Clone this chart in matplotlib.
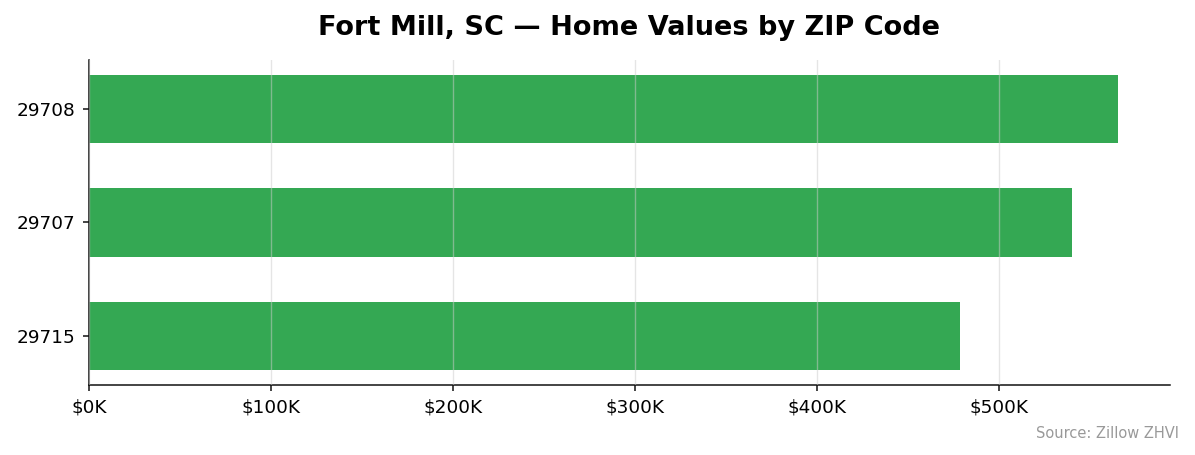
import matplotlib.pyplot as plt
from matplotlib.ticker import FuncFormatter

# ZIP codes and home values (ZHVI, dollars)
zips = ["29715", "29707", "29708"]
values = [478600, 540100, 565400]

fig, ax = plt.subplots(figsize=(11.95, 4.55), dpi=100)
fig.subplots_adjust(left=0.0745, right=0.979, top=0.868, bottom=0.154)

ax.barh(zips, values, height=0.6, color="#34a853")
ax.set_xlim(0, max(values) * 1.05)
ax.xaxis.set_major_formatter(FuncFormatter(lambda v, p: f"${v/1000:.0f}K"))
ax.grid(axis="x", color="#cccccc", alpha=0.5, linewidth=1)
ax.set_axisbelow(False)
ax.spines["top"].set_visible(False)
ax.spines["right"].set_visible(False)
for s in ("left", "bottom"):
    ax.spines[s].set_color("#111111")
    ax.spines[s].set_linewidth(1.1)
ax.tick_params(labelsize=13.3, color="#111111", length=4.5, width=1.1, pad=5.5)

ax.set_title("Fort Mill, SC — Home Values by ZIP Code", fontsize=19.5,
             fontweight="bold", pad=18)
fig.text(0.987, 0.03, "Source: Zillow ZHVI", ha="right", va="bottom",
         fontsize=10.5, color="#999999")

fig.savefig("out.png")
